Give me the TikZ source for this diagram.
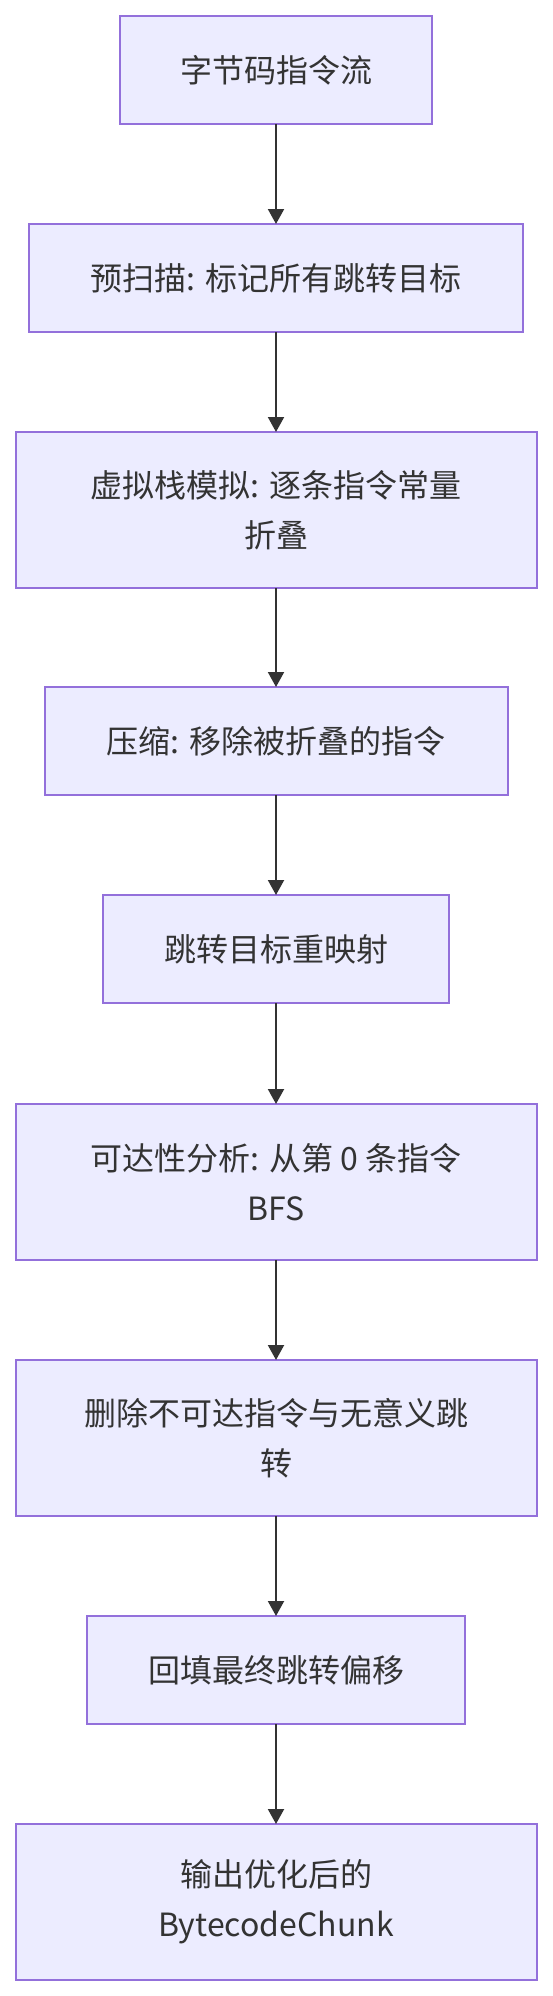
\documentclass[tikz,border=0pt]{standalone}
\usepackage{fontspec}
\setmainfont{Noto Sans CJK SC}
\usetikzlibrary{arrows.meta}
\definecolor{boxfill}{HTML}{ECECFF}
\definecolor{boxline}{HTML}{9370DB}
\definecolor{ink}{HTML}{333333}
\tikzset{
  stepbox/.style={draw=boxline, fill=boxfill, line width=1pt, text=ink, align=center,
    inner sep=0pt, outer sep=0pt, font=\fontsize{16pt}{25pt}\selectfont},
  onebox/.style={stepbox, minimum height=54pt},
  twobox/.style={stepbox, minimum height=78pt},
  flow/.style={draw=ink, line width=1pt, -{Triangle[length=7.5pt,width=8pt]}}
}
\begin{document}
\begin{tikzpicture}[x=0.5pt,y=-0.5pt]
\useasboundingbox (0,0) rectangle (552,1996);
\node[onebox, minimum width=156pt] (n1) at (276,70) {字节码指令流};
\node[onebox, minimum width=247pt] (n2) at (276,278) {预扫描: 标记所有跳转目标};
\node[twobox, minimum width=260.5pt] (n3) at (276,510) {虚拟栈模拟: 逐条指令常量\\折叠};
\node[onebox, minimum width=231.5pt] (n4) at (276,741) {压缩: 移除被折叠的指令};
\node[onebox, minimum width=173pt] (n5) at (276,949) {跳转目标重映射};
\node[twobox, minimum width=260.5pt] (n6) at (276,1182) {可达性分析: 从第 0 条指令\\BFS};
\node[twobox, minimum width=260.5pt] (n7) at (276,1438) {删除不可达指令与无意义跳\\转};
\node[onebox, minimum width=189pt] (n8) at (276,1670) {回填最终跳转偏移};
\node[twobox, minimum width=260.5pt] (n9) at (276,1902) {输出优化后的\\BytecodeChunk};
\draw[flow] (n1) -- (n2);
\draw[flow] (n2) -- (n3);
\draw[flow] (n3) -- (n4);
\draw[flow] (n4) -- (n5);
\draw[flow] (n5) -- (n6);
\draw[flow] (n6) -- (n7);
\draw[flow] (n7) -- (n8);
\draw[flow] (n8) -- (n9);
\end{tikzpicture}
\end{document}
